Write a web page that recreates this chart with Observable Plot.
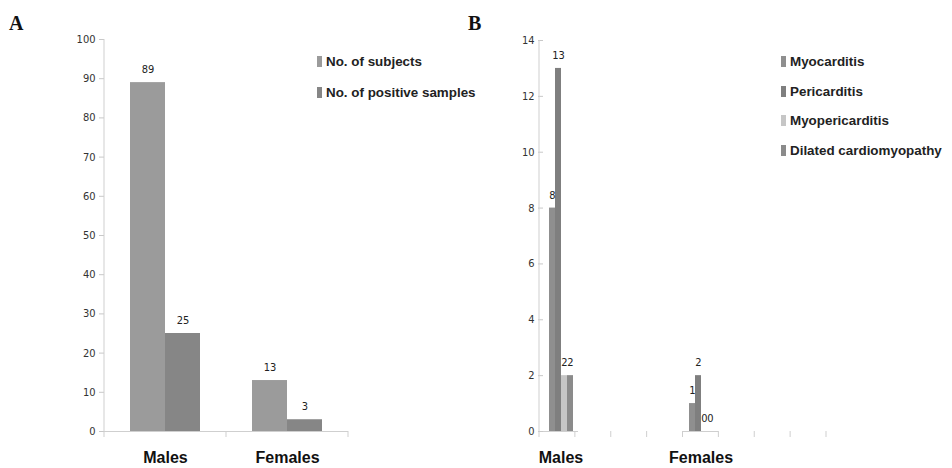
<!DOCTYPE html>
<html><head><meta charset="utf-8">
<script src="https://cdn.jsdelivr.net/npm/d3@7"></script>
<script src="https://cdn.jsdelivr.net/npm/@observablehq/plot@0.6"></script>
<style>
body{margin:0;background:#fff;}
#wrap{position:relative;width:952px;height:468px;overflow:hidden;font-family:"Liberation Sans",Arial,sans-serif;}
.panel{position:absolute;top:0;}
.tag{position:absolute;font-family:"Liberation Serif","Times New Roman",serif;font-weight:bold;font-size:20px;color:#111;}
.legend{position:absolute;font-weight:bold;font-size:13.4px;color:#222;}
.legend div{position:absolute;left:0;white-space:nowrap;height:14px;line-height:14px;}
.legend span{display:inline-block;width:5px;height:11px;margin-right:4px;vertical-align:-1px;}
svg text{font-stretch:condensed;}
svg [aria-label^="y-axis"] line, svg [aria-label^="y-axis"] path{stroke:#c8c8c8;stroke-opacity:1;}
svg [aria-label^="y-axis"] text{fill:#333;}
svg [aria-label^="fx-axis"] text{font-family:"Liberation Sans",Arial,sans-serif;font-weight:bold;font-size:16px;fill:#111;font-stretch:normal;}
</style>
</head><body>
<div id="wrap">
  <div class="tag" style="left:9px;top:12px">A</div>
  <div class="tag" style="left:468px;top:12px">B</div>
  <div class="panel" id="pa" style="left:0"></div>
  <div class="panel" id="pb" style="left:460px"></div>
  <div class="legend" id="la" style="left:317px;top:55px"></div>
  <div class="legend" id="lb" style="left:781px;top:55px"></div>
</div>
<script>
// ---- Panel A data ----
const categoriesA = ["Males", "Females"];
const seriesA = ["No. of subjects", "No. of positive samples"];
const subjects = [89, 13];
const positives = [25, 3];
const colorsA = ["#9b9b9b", "#868686"];

// ---- Panel B data ----
const tickLabelsB = ["Males", "", "", "", "Females", "", "", ""];
const categoriesB = ["Males", "Females"];
const seriesB = ["Myocarditis", "Pericarditis", "Myopericarditis", "Dilated cardiomyopathy"];
const myocarditis = [8, 1];
const pericarditis = [13, 2];
const myopericarditis = [2, 0];
const dilated = [2, 0];
const colorsB = ["#8f8f8f", "#7f7f7f", "#c6c6c6", "#8b8b8b"];

const valuesA = [subjects, positives];
const dataA = categoriesA.flatMap((c, i) => seriesA.map((s, j) => ({cat: c, series: s, value: valuesA[j][i]})));
const valuesB = [myocarditis, pericarditis, myopericarditis, dilated];
const dataB = categoriesB.flatMap((c, i) => seriesB.map((s, j) => ({slot: tickLabelsB.indexOf(c), series: s, value: valuesB[j][i]})));

const narrow = "'DejaVu Sans',sans-serif";

function boundaryTicks(plot, color) {
  const fx = plot.scale("fx");
  const y = plot.scale("y");
  const band = d3.scaleBand().domain(fx.domain).range(fx.range).paddingInner(0).paddingOuter(0);
  const y0 = y.apply(0);
  const y1 = y.apply(y.domain[1]);
  const xs = fx.domain.map(d => band(d)).concat([band.range()[1]]);
  const g = d3.select(plot).append("g").attr("aria-label", "x-boundary-ticks").attr("stroke", color);
  g.selectAll("line.b").data(xs).join("line").attr("class", "b")
    .attr("x1", d => d).attr("x2", d => d)
    .attr("y1", y0).attr("y2", y0 + 6);
  // y-axis line
  g.append("line").attr("x1", band.range()[0]).attr("x2", band.range()[0]).attr("y1", y1).attr("y2", y0);
}

function yAxisMarks(n) {
  return Plot.axisY({ticks: n, tickSize: 5, tickPadding: 4, label: null, facetAnchor: "left", stroke: "#c8c8c8", fill: "#333", fontFamily: narrow, fontSize: 11});
}

const plotA = Plot.plot({
  width: 470, height: 468,
  marginLeft: 104, marginRight: 122, marginTop: 39, marginBottom: 37,
  style: {fontFamily: narrow, fontSize: "11px", background: "transparent"},
  facet: {data: dataA, x: "cat"},
  fx: {domain: categoriesA, paddingInner: 0, paddingOuter: 0, axis: "bottom", tickSize: 0, tickPadding: 20, label: null},
  x: {domain: seriesA, axis: null, paddingInner: 0, paddingOuter: 0.72},
  y: {domain: [0, 100], label: null},
  color: {domain: seriesA, range: colorsA},
  marks: [
    yAxisMarks(10),
    Plot.ruleY([0], {stroke: "#cfcfcf"}),
    Plot.barY(dataA, {x: "series", y: "value", fill: "series"}),
    Plot.text(dataA, {x: "series", y: "value", text: d => String(d.value), dy: -13, fill: "#222", fontFamily: narrow, fontSize: 11})
  ]
});
document.getElementById("pa").appendChild(plotA);
boundaryTicks(plotA, "#cfcfcf");

const plotB = Plot.plot({
  width: 492, height: 468,
  marginLeft: 79, marginRight: 126, marginTop: 40, marginBottom: 37,
  style: {fontFamily: narrow, fontSize: "11px", background: "transparent"},
  facet: {data: dataB, x: "slot"},
  fx: {domain: d3.range(tickLabelsB.length), paddingInner: 0, paddingOuter: 0, axis: "bottom", tickSize: 0, tickPadding: 20, label: null, tickFormat: i => tickLabelsB[i]},
  x: {domain: seriesB, axis: null, paddingInner: 0, paddingOuter: 0.7},
  y: {domain: [0, 14], label: null},
  color: {domain: seriesB, range: colorsB},
  marks: [
    yAxisMarks(7),
    Plot.ruleY([0], {stroke: "#cfcfcf"}),
    Plot.barY(dataB, {x: "series", y: "value", fill: "series"}),
    Plot.text(dataB, {x: "series", y: "value", text: d => String(d.value), dy: -13, fill: "#222", fontFamily: narrow, fontSize: 11})
  ]
});
document.getElementById("pb").appendChild(plotB);
boundaryTicks(plotB, "#cfcfcf");

function legend(id, series, colors, spacing) {
  const el = document.getElementById(id);
  series.forEach((s, i) => {
    const row = document.createElement("div");
    row.style.top = (i * spacing) + "px";
    const sw = document.createElement("span");
    sw.style.background = colors[i];
    row.appendChild(sw);
    row.appendChild(document.createTextNode(s));
    el.appendChild(row);
  });
}
legend("la", seriesA, colorsA, 31);
legend("lb", seriesB, colorsB, 29.7);
</script>
</body></html>
